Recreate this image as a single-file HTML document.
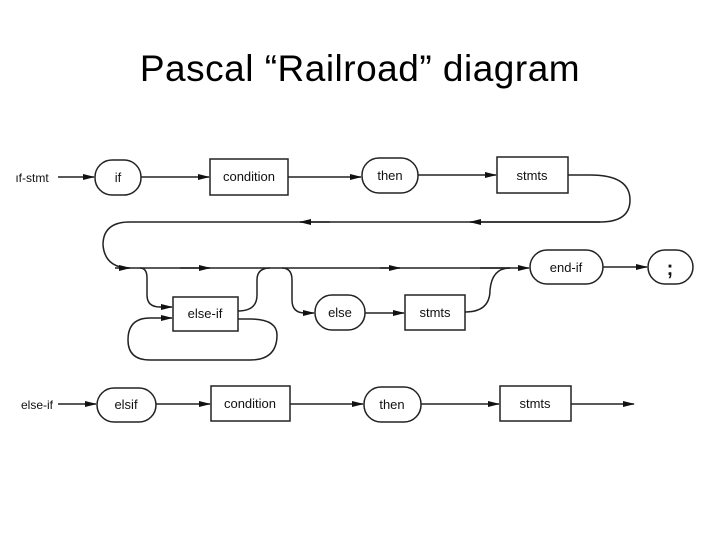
<!DOCTYPE html>
<html><head><meta charset="utf-8"><style>
html,body{margin:0;padding:0;background:#fff;}
body{width:720px;height:540px;overflow:hidden;position:relative;}
h1{position:absolute;top:48px;left:0;width:720px;text-align:center;margin:0;font:400 37px "Liberation Sans",sans-serif;color:#000;letter-spacing:0.5px;}
</style></head><body>
<h1>Pascal “Railroad” diagram</h1>
<svg width="720" height="540" style="position:absolute;left:0;top:0" font-family="Liberation Sans, sans-serif" font-size="13">
<defs><marker id="a" markerWidth="12" markerHeight="8" refX="11" refY="4" orient="auto" markerUnits="userSpaceOnUse"><path d="M0,1 L12,4 L0,7 Z" fill="#111"/></marker></defs>
<g stroke="#222" stroke-width="1.5" fill="none">
<line x1="58" y1="177" x2="94" y2="177" marker-end="url(#a)"/>
<rect x="95" y="160" width="46" height="35" rx="17"/>
<line x1="141" y1="177" x2="209" y2="177" marker-end="url(#a)"/>
<rect x="210" y="159" width="78" height="36"/>
<line x1="288" y1="177" x2="361" y2="177" marker-end="url(#a)"/>
<rect x="362" y="158" width="56" height="35" rx="17"/>
<line x1="418" y1="175" x2="496" y2="175" marker-end="url(#a)"/>
<rect x="497" y="157" width="71" height="36"/>
<path d="M568,175 L590,175 Q630,175 630,200 Q630,222 600,222 L130,222 Q103,222 103,245 Q105,268 130,268 L510,268"/>
<line x1="330" y1="222" x2="300" y2="222" marker-end="url(#a)"/>
<line x1="600" y1="222" x2="470" y2="222" marker-end="url(#a)"/>
<line x1="115" y1="268" x2="130" y2="268" marker-end="url(#a)"/>
<line x1="180" y1="268" x2="210" y2="268" marker-end="url(#a)"/>
<line x1="380" y1="268" x2="400" y2="268" marker-end="url(#a)"/>
<line x1="480" y1="268" x2="529" y2="268" marker-end="url(#a)"/>
<rect x="530" y="250" width="73" height="34" rx="17"/>
<line x1="603" y1="267" x2="647" y2="267" marker-end="url(#a)"/>
<rect x="648" y="250" width="45" height="34" rx="17"/>
<path d="M140,268 Q147,268 147,278 L147,295 Q147,307 160,307 L172,307" marker-end="url(#a)"/>
<path d="M238,311 Q257,311 257,295 L257,280 Q257,268 270,268"/>
<path d="M238,319 L250,319 Q277,319 277,335 Q277,360 250,360 L150,360 Q128,360 128,340 Q128,318 150,318 L172,318" marker-end="url(#a)"/>
<rect x="173" y="297" width="65" height="34"/>
<path d="M282,268 Q292,268 292,280 L292,300 Q292,313 305,313 L314,313" marker-end="url(#a)"/>
<rect x="315" y="295" width="50" height="35" rx="17"/>
<line x1="365" y1="313" x2="404" y2="313" marker-end="url(#a)"/>
<rect x="405" y="295" width="60" height="35"/>
<path d="M465,312 Q490,312 490,290 Q492,268 510,268"/>
<line x1="58" y1="404" x2="96" y2="404" marker-end="url(#a)"/>
<rect x="97" y="388" width="59" height="34" rx="17"/>
<line x1="156" y1="404" x2="210" y2="404" marker-end="url(#a)"/>
<rect x="211" y="386" width="79" height="35"/>
<line x1="290" y1="404" x2="363" y2="404" marker-end="url(#a)"/>
<rect x="364" y="387" width="57" height="35" rx="17"/>
<line x1="421" y1="404" x2="499" y2="404" marker-end="url(#a)"/>
<rect x="500" y="386" width="71" height="35"/>
<line x1="571" y1="404" x2="634" y2="404" marker-end="url(#a)"/>
</g>
<g fill="#111" text-anchor="middle">
<text x="32" y="182" font-size="12">ıf-stmt</text>
<text x="118" y="182">if</text>
<text x="249" y="181">condition</text>
<text x="390" y="180">then</text>
<text x="532" y="180">stmts</text>
<text x="566" y="272">end-if</text>
<text x="670" y="275" font-size="20" font-weight="bold">;</text>
<text x="205" y="318">else-if</text>
<text x="340" y="317">else</text>
<text x="435" y="317">stmts</text>
<text x="37" y="409" font-size="12">else-if</text>
<text x="126" y="409">elsif</text>
<text x="250" y="408">condition</text>
<text x="392" y="409">then</text>
<text x="535" y="408">stmts</text>
</g>
</svg>
</body></html>
